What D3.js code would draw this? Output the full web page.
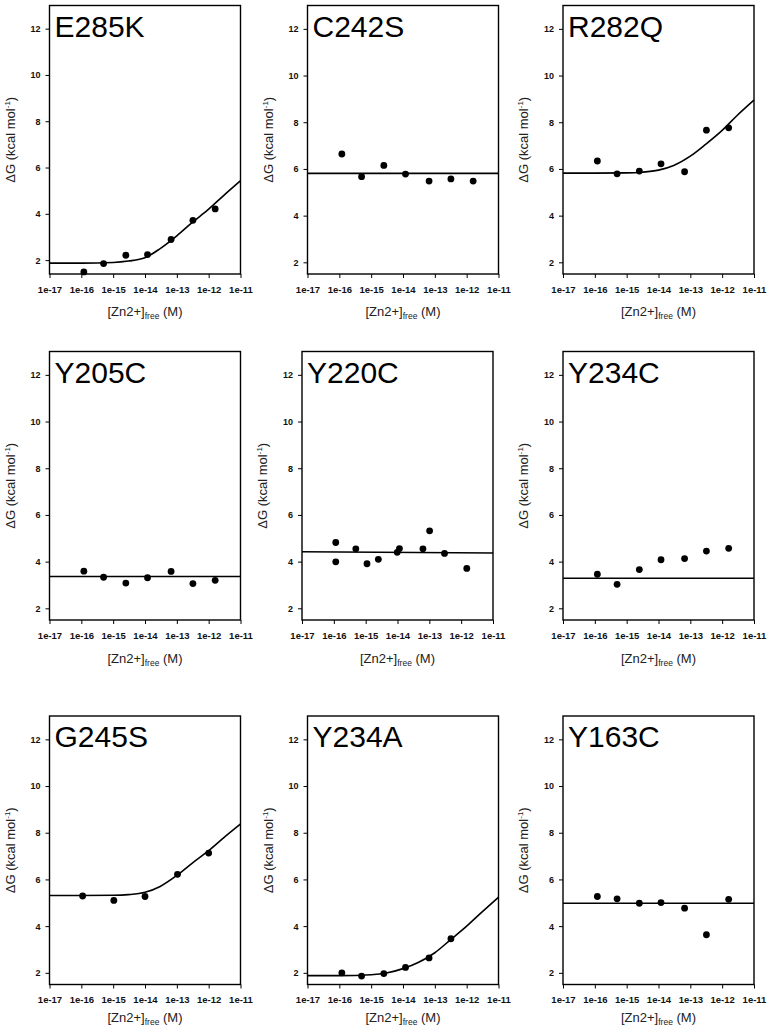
<!DOCTYPE html>
<html>
<head>
<meta charset="utf-8">
<style>
  body { margin: 0; background: #fff; }
  .tick text { font-family: "Liberation Sans", Arial, sans-serif; font-weight: bold; fill: #111; }
  .tick line { stroke: #000; }
  .domain { display: none; }
  .lab { font-family: "Liberation Sans", Arial, sans-serif; fill: #222; }
  .title { font-family: "Liberation Sans", Arial, sans-serif; fill: #000; }
</style>
<script src="https://d3js.org/d3.v7.min.js"></script>
</head>
<body>
<div id="chart"></div>
<script>
// mutant names, in reading order
var panelNames = ["E285K", "C242S", "R282Q", "Y205C", "Y220C", "Y234C", "G245S", "Y234A", "Y163C"];

// x ticks (free Zn2+, M)
var xTicks = [1e-17, 1e-16, 1e-15, 1e-14, 1e-13, 1e-12, 1e-11];
var xTickLabels = ["1e-17", "1e-16", "1e-15", "1e-14", "1e-13", "1e-12", "1e-11"];
var yTicks = [2, 4, 6, 8, 10, 12];

// concentrations of the measured points
var concCommon = [1.2e-16, 5e-16, 2.5e-15, 1.2e-14, 6.6e-14, 3.2e-13, 1.6e-12];
var concY220C = [1.15e-16, 1.15e-16, 4.9e-16, 1.1e-15, 2.5e-15, 9.8e-15, 1.15e-14, 6.3e-14, 1.02e-13, 3e-13, 1.5e-12];
var concG245S = [1.1e-16, 1.05e-15, 1e-14, 1.05e-13, 1e-12];
var concY234A = [1.2e-16, 5e-16, 2.5e-15, 1.2e-14, 6.6e-14, 3.2e-13];

// measured dG (kcal/mol)
var dgE285K = [1.49, 1.85, 2.21, 2.24, 2.89, 3.72, 4.21];
var dgC242S = [6.64, 5.67, 6.15, 5.78, 5.48, 5.57, 5.48];
var dgR282Q = [6.34, 5.79, 5.91, 6.22, 5.88, 7.66, 7.76];
var dgY205C = [3.59, 3.33, 3.08, 3.31, 3.58, 3.06, 3.2];
var dgY220C = [4.82, 3.99, 4.55, 3.91, 4.1, 4.4, 4.56, 4.55, 5.32, 4.35, 3.71];
var dgY234C = [3.46, 3.03, 3.66, 4.08, 4.13, 4.45, 4.57];
var dgG245S = [5.29, 5.1, 5.27, 6.22, 7.13];
var dgY234A = [2.0, 1.86, 1.97, 2.23, 2.64, 3.46];
var dgY163C = [5.27, 5.17, 4.98, 5.01, 4.77, 3.63, 5.15];

// fitted curves
var fitConc = [1e-17, 1e-16, 1e-15, 3e-15, 1e-14, 3e-14, 1e-13, 3e-13, 1e-12, 3e-12, 1e-11];
var fitE285K = [1.87, 1.87, 1.9, 1.96, 2.1, 2.5, 3.05, 3.62, 4.2, 4.8, 5.43];
var fitR282Q = [5.82, 5.82, 5.83, 5.86, 5.95, 6.15, 6.55, 7.05, 7.65, 8.3, 8.95];
var fitG245S = [5.31, 5.31, 5.32, 5.35, 5.45, 5.7, 6.17, 6.69, 7.23, 7.79, 8.37];
var fitY234A = [1.88, 1.88, 1.92, 1.99, 2.18, 2.44, 2.86, 3.4, 4.0, 4.6, 5.24];
var flatConc = [1e-17, 1e-11];
var fitC242S = [5.81, 5.81];
var fitY205C = [3.36, 3.36];
var fitY220C = [4.42, 4.37];
var fitY234C = [3.29, 3.29];
var fitY163C = [4.98, 4.98];

var panels = [
  {name: panelNames[0], conc: concCommon, dg: dgE285K, fx: fitConc, fy: fitE285K, ymin: 1.4},
  {name: panelNames[1], conc: concCommon, dg: dgC242S, fx: flatConc, fy: fitC242S, ymin: 1.5},
  {name: panelNames[2], conc: concCommon, dg: dgR282Q, fx: fitConc, fy: fitR282Q, ymin: 1.5},
  {name: panelNames[3], conc: concCommon, dg: dgY205C, fx: flatConc, fy: fitY205C, ymin: 1.5},
  {name: panelNames[4], conc: concY220C, dg: dgY220C, fx: flatConc, fy: fitY220C, ymin: 1.5},
  {name: panelNames[5], conc: concCommon, dg: dgY234C, fx: flatConc, fy: fitY234C, ymin: 1.5},
  {name: panelNames[6], conc: concG245S, dg: dgG245S, fx: fitConc, fy: fitG245S, ymin: 1.5},
  {name: panelNames[7], conc: concY234A, dg: dgY234A, fx: fitConc, fy: fitY234A, ymin: 1.5},
  {name: panelNames[8], conc: concCommon, dg: dgY163C, fx: flatConc, fy: fitY163C, ymin: 1.5}
];

// layout of the 3x3 grid
var colLeft = [49.5, 307.5, 563];
var rowTop = [5.5, 351.5, 716];
var pw = 191, ph = 268.5;
var xLabGap = [42, 43, 37];

var svg = d3.select("#chart").append("svg")
    .attr("width", 772)
    .attr("height", 1034)
    .style("background", "#fff");

panels.forEach(function(p, i) {
  var col = i % 3, row = Math.floor(i / 3);
  var left = colLeft[col];
  if (p.name == "Y220C") left = 302;
  var g = svg.append("g")
      .attr("transform", "translate(" + left + "," + rowTop[row] + ")");

  var x = d3.scaleLog().domain([1e-17, 1e-11]).range([0, pw]);
  var y = d3.scaleLinear().domain([p.ymin, 13]).range([ph, 0]);

  g.append("g")
      .attr("transform", "translate(0," + ph + ")")
      .call(d3.axisBottom(x).tickValues(xTicks).tickSize(4).tickPadding(8)
        .tickFormat(function(d, k) { return xTickLabels[k]; }))
      .selectAll("text").style("font-size", "9.5px");

  g.append("g")
      .call(d3.axisLeft(y).tickValues(yTicks).tickSize(4).tickPadding(5))
      .selectAll("text").style("font-size", "9px");

  g.selectAll(".tick line").attr("stroke-width", 1);

  // fitted line
  var pts = p.fx.map(function(c, k) { return [c, p.fy[k]]; });
  g.append("path")
      .datum(pts)
      .attr("fill", "none")
      .attr("stroke", "#000")
      .attr("stroke-width", 1.6)
      .attr("d", d3.line()
        .x(function(d) { return x(d[0]); })
        .y(function(d) { return y(d[1]); })
        .curve(d3.curveMonotoneX));

  // data points
  g.selectAll("circle")
      .data(p.conc.map(function(c, k) { return [c, p.dg[k]]; }))
      .enter()
      .append("circle")
        .attr("cx", function(d) { return x(d[0]); })
        .attr("cy", function(d) { return y(d[1]); })
        .attr("r", 3.4)
        .attr("fill", "#000");

  // frame
  g.append("rect")
      .attr("width", pw)
      .attr("height", ph)
      .attr("fill", "none")
      .attr("stroke", "#000")
      .attr("stroke-width", 1.4);

  // mutant name
  g.append("text")
      .attr("class", "title")
      .attr("x", 5)
      .attr("y", 31)
      .style("font-size", "30px")
      .text(p.name);

  // y label
  var yl = g.append("text")
      .attr("class", "lab")
      .attr("transform", "translate(-35," + (ph / 2) + ") rotate(-90)")
      .attr("text-anchor", "middle")
      .style("font-size", "13px");
  yl.append("tspan").text("\u0394G (kcal mol");
  yl.append("tspan").attr("dy", -5).style("font-size", "8px").text("-1");
  yl.append("tspan").attr("dy", 5).text(")");

  // x label
  var xl = g.append("text")
      .attr("class", "lab")
      .attr("x", pw / 2)
      .attr("y", ph + xLabGap[row])
      .attr("text-anchor", "middle")
      .style("font-size", "13px");
  xl.append("tspan").text("[Zn2+]");
  xl.append("tspan").attr("dy", 3).style("font-size", "8.5px").text("free");
  xl.append("tspan").attr("dy", -3).text(" (M)");
});
</script>
</body>
</html>
